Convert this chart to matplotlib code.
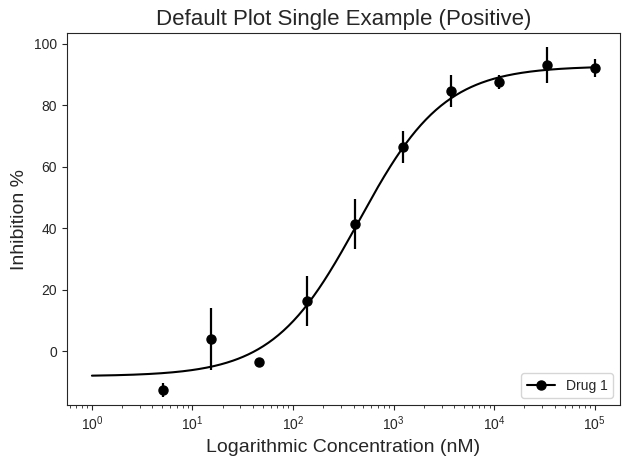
import numpy as np
import matplotlib
matplotlib.use("Agg")
import matplotlib.pyplot as plt
import seaborn as sns
from matplotlib.lines import Line2D

# Data
concentrations = [5.08, 15.24, 45.72, 137.2, 411.5, 1234.6, 3703.7, 11111.1, 33333.3, 100000.0]
inhibition = [-12.7, 3.9, -3.6, 16.3, 41.4, 66.4, 84.6, 87.5, 93.1, 92.2]
errors = [2.2, 10.0, 0.6, 8.0, 8.0, 5.2, 5.2, 2.3, 5.8, 3.0]

# fitted 4PL curve parameters
fit_bottom = -8.2
fit_top = 92.8
fit_ic50 = 450.0
fit_hill = 1.02
curve_range = [1.0, 100000.0]

sns.set_style("ticks")
plt.rcParams["font.family"] = ["Liberation Sans", "DejaVu Sans"]

fig, ax = plt.subplots(figsize=(6.3, 4.7), dpi=100)

xc = np.logspace(np.log10(curve_range[0]), np.log10(curve_range[1]), 400)
yc = fit_bottom + (fit_top - fit_bottom) / (1 + (fit_ic50 / xc) ** fit_hill)
ax.plot(xc, yc, color="black", lw=1.5)

ax.errorbar(concentrations, inhibition, yerr=errors, fmt="o", color="black",
            ms=6.5, elinewidth=1.6, capsize=0)

ax.set_xscale("log")
ax.set_xlim(10 ** -0.25, 10 ** 5.25)
ax.set_ylim(-17.6, 103.6)
ax.set_yticks([0, 20, 40, 60, 80, 100])
ax.set_title("Default Plot Single Example (Positive)", fontsize=16)
ax.set_xlabel("Logarithmic Concentration (nM)", fontsize=14)
ax.set_ylabel("Inhibition %", fontsize=14)

handle = Line2D([], [], color="black", marker="o", ms=6.5, lw=1.5)
ax.legend([handle], ["Drug 1"], loc="lower right")

fig.subplots_adjust(left=0.106, right=0.984, top=0.930, bottom=0.138)
fig.savefig("out.png", dpi=100)
